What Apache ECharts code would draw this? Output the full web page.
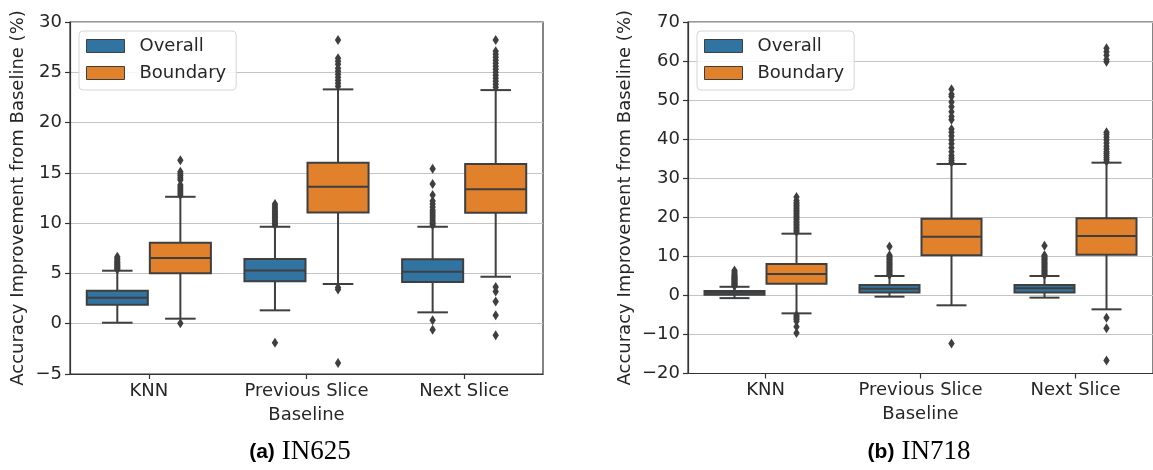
<!DOCTYPE html>
<html>
<head>
<meta charset="utf-8">
<script src="https://cdn.jsdelivr.net/npm/echarts@6/dist/echarts.min.js"></script>
<style>
html,body{margin:0;padding:0;background:#fff;}
#chart{width:1153px;height:470px;}
</style>
</head>
<body>
<div id="chart"></div>
<script>
// ---------- data ----------
const categories = ['KNN', 'Previous Slice', 'Next Slice'];
const seriesNames = ['Overall', 'Boundary'];

// [min whisker, Q1, median, Q3, max whisker]
const in625Overall = [
  [0.1, 1.89, 2.59, 3.28, 5.27],
  [1.33, 4.21, 5.3, 6.43, 9.64],
  [1.13, 4.15, 5.17, 6.4, 9.64]
];
const in625Boundary = [
  [0.5, 5.01, 6.53, 8.05, 12.62],
  [3.95, 11.07, 13.62, 16.0, 23.3],
  [4.67, 11.03, 13.36, 15.88, 23.23]
];
const in625OverallOutliers = [
  [5.4, 5.5, 5.6, 5.7, 5.8, 5.9, 6.0, 6.1, 6.2, 6.35, 6.5, 6.65],
  [-1.9, 9.8, 9.95, 10.1, 10.25, 10.4, 10.55, 10.7, 10.85, 11.0, 11.15, 11.3, 11.5, 11.7, 11.9],
  [-0.6, 0.35, 9.8, 9.95, 10.1, 10.3, 10.5, 10.7, 10.9, 11.1, 11.3, 11.6, 11.9, 12.2, 12.8, 13.9, 15.4]
];
const in625BoundaryOutliers = [
  [0.05, 12.8, 13.0, 13.2, 13.4, 13.6, 13.8, 14.3, 14.5, 14.7, 14.9, 15.1, 16.25],
  [-3.9, 3.4, 3.6, 23.6, 23.9, 24.2, 24.5, 24.8, 25.1, 25.4, 25.8, 26.1, 26.4, 28.2],
  [-1.15, 0.85, 2.2, 3.2, 3.65, 23.5, 23.8, 24.1, 24.4, 24.7, 25.0, 25.3, 25.6, 25.9, 26.2, 26.5, 26.8, 27.1, 28.2]
];

const in718Overall = [
  [-0.7, 0.15, 0.65, 1.1, 2.2],
  [-0.33, 0.75, 1.7, 2.66, 4.97],
  [-0.58, 0.75, 1.8, 2.66, 4.97]
];
const in718Boundary = [
  [-4.6, 3.0, 5.48, 8.04, 15.8],
  [-2.54, 10.26, 15.03, 19.64, 33.64],
  [-3.57, 10.4, 15.2, 19.73, 33.98]
];
const in718OverallOutliers = [
  [2.4, 2.6, 2.8, 3.0, 3.2, 3.4, 3.6, 3.8, 4.0, 4.2, 4.4, 4.6, 4.8, 5.0, 5.3, 5.6, 6.0, 6.4],
  [5.2, 5.5, 5.8, 6.1, 6.4, 6.7, 7.0, 7.3, 7.6, 7.9, 8.2, 8.5, 8.8, 9.1, 9.4, 9.7, 10.0, 10.3, 12.5],
  [5.2, 5.5, 5.8, 6.1, 6.4, 6.7, 7.0, 7.3, 7.6, 7.9, 8.2, 8.5, 8.8, 9.1, 9.4, 9.7, 10.0, 10.3, 12.7]
];
const in718BoundaryOutliers = [
  [-5.0, -5.4, -5.8, -6.2, -6.6, -8.0, -9.6, 16.2, 16.6, 17.0, 17.4, 17.8, 18.2, 18.6, 19.0, 19.4, 19.8, 20.2, 20.6, 21.0, 21.4, 21.8, 22.2, 22.6, 23.0, 23.4, 23.8, 24.3, 25.2],
  [-12.3, 34.0, 34.6, 35.2, 35.8, 36.8, 37.8, 38.8, 39.8, 40.8, 41.8, 42.6, 45.0, 45.8, 47.0, 48.3, 49.5, 50.9, 51.5, 52.8],
  [-16.7, -8.4, -5.7, 34.3, 34.8, 35.3, 35.8, 36.3, 36.8, 37.5, 38.2, 39.0, 39.8, 40.5, 41.2, 41.8, 59.8, 60.4, 61.5, 62.4, 63.3]
];

const yTicks625 = { min: -5, max: 30, interval: 5 };
const yTicks718 = { min: -20, max: 70, interval: 10 };
const captions = [['(a)', 'IN625'], ['(b)', 'IN718']];

// ---------- style ----------
const BLUE = '#3274A1', ORANGE = '#E1812C', EDGE = '#3f3f3f', TXT = '#262626';
const FONT = 'DejaVu Sans';
const FS = 18;

function boxRender(sign, fill) {
  return function (params, api) {
    const i = api.value(0);
    const band = api.size([1, 0])[0];
    const cx = api.coord([i, 0])[0] + sign * band * 0.2;
    const w = band * 0.4 - 2;
    const y = k => api.coord([i, api.value(k)])[1];
    const yMin = y(1), yQ1 = y(2), yMed = y(3), yQ3 = y(4), yMax = y(5);
    const ls = { stroke: EDGE, lineWidth: 2 };
    return {
      type: 'group',
      children: [
        { type: 'line', shape: { x1: cx, y1: yQ1, x2: cx, y2: yMin }, style: ls },
        { type: 'line', shape: { x1: cx, y1: yQ3, x2: cx, y2: yMax }, style: ls },
        { type: 'line', shape: { x1: cx - w / 4, y1: yMin, x2: cx + w / 4, y2: yMin }, style: ls },
        { type: 'line', shape: { x1: cx - w / 4, y1: yMax, x2: cx + w / 4, y2: yMax }, style: ls },
        { type: 'rect', shape: { x: cx - w / 2, y: yQ3, width: w, height: yQ1 - yQ3 }, style: { fill: fill, stroke: EDGE, lineWidth: 2 } },
        { type: 'line', shape: { x1: cx - w / 2, y1: yMed, x2: cx + w / 2, y2: yMed }, style: ls }
      ]
    };
  };
}
function outlierRender(sign) {
  return function (params, api) {
    const i = api.value(0);
    const band = api.size([1, 0])[0];
    const cx = api.coord([i, 0])[0] + sign * band * 0.2;
    const cy = api.coord([i, api.value(1)])[1];
    return {
      type: 'polygon',
      shape: { points: [[cx, cy - 5], [cx + 3.2, cy], [cx, cy + 5], [cx - 3.2, cy]] },
      style: { fill: EDGE }
    };
  };
}
const boxData = arr => arr.map((s, i) => [i].concat(s));
const outData = arr => {
  const out = [];
  arr.forEach((list, i) => list.forEach(v => out.push([i, v])));
  return out;
};

function makeSeries(gi, overall, boundary, oOut, bOut) {
  return [
    { type: 'custom', name: 'Overall', xAxisIndex: gi, yAxisIndex: gi, itemStyle: { color: BLUE },
      renderItem: boxRender(-1, BLUE), data: boxData(overall), encode: { x: 0, y: [1, 2, 3, 4, 5] }, z: 3 },
    { type: 'custom', name: 'Boundary', xAxisIndex: gi, yAxisIndex: gi, itemStyle: { color: ORANGE },
      renderItem: boxRender(1, ORANGE), data: boxData(boundary), encode: { x: 0, y: [1, 2, 3, 4, 5] }, z: 3 },
    { type: 'custom', name: 'Overall outliers', xAxisIndex: gi, yAxisIndex: gi,
      renderItem: outlierRender(-1), data: outData(oOut), encode: { x: 0, y: 1 }, z: 4 },
    { type: 'custom', name: 'Boundary outliers', xAxisIndex: gi, yAxisIndex: gi,
      renderItem: outlierRender(1), data: outData(bOut), encode: { x: 0, y: 1 }, z: 4 }
  ];
}

function xAxis(gi) {
  return {
    type: 'category', gridIndex: gi, data: categories,
    name: 'Baseline', nameLocation: 'middle', nameGap: 32,
    nameTextStyle: { fontFamily: FONT, fontSize: FS, color: TXT },
    axisLine: { show: true, onZero: false, lineStyle: { color: '#333', width: 1.2 } },
    axisTick: { show: true, alignWithLabel: true, length: 5, lineStyle: { color: '#333', width: 1.2 } },
    axisLabel: { fontFamily: FONT, fontSize: FS, color: TXT, margin: 8, interval: 0 },
    splitLine: { show: false }
  };
}
function yAxis(gi, t, gap) {
  return {
    type: 'value', gridIndex: gi, min: t.min, max: t.max, interval: t.interval,
    name: 'Accuracy Improvement from Baseline (%)', nameLocation: 'middle', nameGap: gap, nameRotate: 90,
    nameTextStyle: { fontFamily: FONT, fontSize: FS, color: TXT },
    axisLine: { show: true, lineStyle: { color: '#333', width: 1.2 } },
    axisTick: { show: true, length: 5, lineStyle: { color: '#333', width: 1.2 } },
    axisLabel: { fontFamily: FONT, fontSize: FS, color: TXT, margin: 8,
      formatter: v => String(v).replace('-', '\u2212') },
    splitLine: { show: true, lineStyle: { color: '#c4c4c4', width: 1 } }
  };
}
function legend(left) {
  return {
    data: seriesNames, orient: 'vertical', left: left, top: 31,
    padding: [6, 10, 8, 7], itemGap: 9, itemWidth: 38, itemHeight: 13,
    icon: 'rect', selectedMode: false,
    itemStyle: { borderColor: EDGE, borderWidth: 1 },
    backgroundColor: 'rgba(255,255,255,0.85)', borderColor: '#d5d5d5', borderWidth: 1, borderRadius: 4,
    textStyle: { fontFamily: FONT, fontSize: FS, color: TXT, padding: [0, 0, 0, 10] }
  };
}
function caption(x, c) {
  return {
    type: 'text', x: x, y: 452,
    style: {
      text: '{b|' + c[0] + '}{s|' + c[1] + '}',
      align: 'center', verticalAlign: 'middle',
      rich: {
        b: { fontFamily: 'Liberation Sans', fontWeight: 'bold', fontSize: 21, fill: '#000', padding: [0, 7, 0, 0] },
        s: { fontFamily: 'Liberation Serif', fontSize: 27, fill: '#000' }
      }
    }
  };
}

const chart = echarts.init(document.getElementById('chart'), null, { renderer: 'canvas' });
chart.setOption({
  animation: false,
  backgroundColor: '#fff',
  grid: [
    { left: 70, top: 22, width: 473, height: 352, show: true, borderColor: '#333', borderWidth: 1.2, backgroundColor: 'transparent' },
    { left: 688, top: 22, width: 473, height: 351.5, show: true, borderColor: '#333', borderWidth: 1.2, backgroundColor: 'transparent' }
  ],
  xAxis: [xAxis(0), xAxis(1)],
  yAxis: [yAxis(0, yTicks625, 43), yAxis(1, yTicks718, 54)],
  legend: [legend(79), legend(697)],
  series: makeSeries(0, in625Overall, in625Boundary, in625OverallOutliers, in625BoundaryOutliers)
    .concat(makeSeries(1, in718Overall, in718Boundary, in718OverallOutliers, in718BoundaryOutliers)),
  graphic: [caption(300, captions[0]), caption(919, captions[1])]
});
</script>
</body>
</html>
